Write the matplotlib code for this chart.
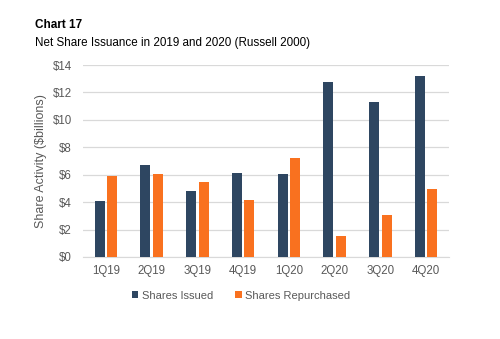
import numpy as np
import matplotlib
matplotlib.use("Agg")
import matplotlib.pyplot as plt

plt.rcParams["font.family"] = ["Liberation Sans", "DejaVu Sans"]

quarters = ["1Q19", "2Q19", "3Q19", "4Q19", "1Q20", "2Q20", "3Q20", "4Q20"]
issued = [4.1, 6.7, 4.8, 6.1, 6.05, 12.75, 11.3, 13.2]
repurchased = [5.9, 6.05, 5.45, 4.15, 7.25, 1.55, 3.05, 4.95]
yticks = [0, 2, 4, 6, 8, 10, 12, 14]

NAVY, ORANGE, GREY = "#2E4661", "#F9711F", "#595959"

fig = plt.figure(figsize=(5.0, 3.39), dpi=100)
ax = fig.add_axes([0.166, 0.242, 0.732, 0.566])

x = np.arange(len(quarters))
w = 0.22
ax.bar(x - 0.138, issued, w, color=NAVY, label="Shares Issued", zorder=3)
ax.bar(x + 0.138, repurchased, w, color=ORANGE, label="Shares Repurchased", zorder=3)

ax.set_xlim(-0.5, len(quarters) - 0.5)
ax.set_ylim(0, 14)
ax.set_yticks(yticks)
ax.set_yticklabels([f"${v}" for v in yticks])
ax.set_xticks(x)
ax.set_xticklabels(quarters)
ax.tick_params(length=0, labelsize=8.3, colors=GREY)
ax.tick_params(axis="y", pad=8)
ax.tick_params(axis="x", pad=6)
ax.grid(axis="y", color="#D9D9D9", lw=0.9, zorder=0)
for s in ["top", "right", "left"]:
    ax.spines[s].set_visible(False)
ax.spines["bottom"].set_color("#D9D9D9")
ax.set_ylabel("Share Activity ($billions)", fontsize=9, color=GREY, labelpad=4)

fig.text(0.07, 0.925, "Chart 17", fontsize=8.5, fontweight="bold", va="center")
fig.text(0.07, 0.873, "Net Share Issuance in 2019 and 2020 (Russell 2000)", fontsize=8.4, va="center")

fig.legend(loc="center", bbox_to_anchor=(0.482, 0.128), ncol=2, frameon=False,
           fontsize=8, handlelength=0.6, handleheight=0.6, handletextpad=0.3,
           columnspacing=2.0, labelcolor=GREY)

fig.savefig("out.png", dpi=100)
